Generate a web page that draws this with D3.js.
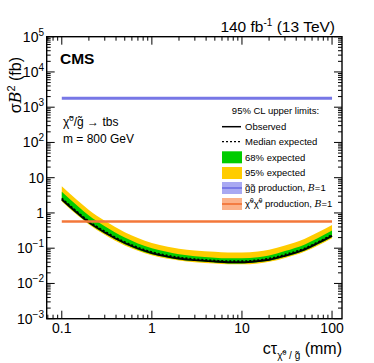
<!DOCTYPE html>
<html>
<head>
<meta charset="utf-8">
<script src="https://cdn.jsdelivr.net/npm/d3@7"></script>
<style>
body { margin: 0; background: #fff; }
svg { display: block; font-family: "Liberation Sans", Arial, sans-serif; }
</style>
</head>
<body>
<svg id="chart" width="374" height="363"></svg>
<script>
// lifetime points (mm)
const ctau = [0.1, 0.15, 0.2, 0.3, 0.5, 0.7, 1, 1.5, 2, 3, 5, 7, 10, 15, 20, 30, 50, 70, 100];
// limits in fb
const observed = [2.42, 0.98, 0.54, 0.28, 0.14, 0.098, 0.073, 0.058, 0.051, 0.046, 0.042, 0.040, 0.040, 0.043, 0.047, 0.061, 0.093, 0.140, 0.223];
const expected = [2.6, 1.05, 0.58, 0.30, 0.15, 0.105, 0.078, 0.062, 0.055, 0.049, 0.045, 0.043, 0.043, 0.046, 0.051, 0.066, 0.100, 0.150, 0.24];
const exp68Hi = [4.0, 1.58, 0.84, 0.42, 0.20, 0.137, 0.100, 0.078, 0.067, 0.059, 0.054, 0.052, 0.052, 0.055, 0.062, 0.083, 0.128, 0.195, 0.317];
const exp68Lo = [2.25, 0.90, 0.50, 0.26, 0.13, 0.091, 0.067, 0.054, 0.048, 0.043, 0.039, 0.037, 0.037, 0.040, 0.044, 0.057, 0.086, 0.129, 0.207];
const exp95Hi = [5.7, 2.26, 1.22, 0.60, 0.285, 0.194, 0.140, 0.110, 0.097, 0.086, 0.079, 0.075, 0.075, 0.081, 0.091, 0.119, 0.185, 0.282, 0.456];
const exp95Lo = [2.1, 0.84, 0.47, 0.24, 0.12, 0.085, 0.063, 0.050, 0.045, 0.040, 0.037, 0.035, 0.035, 0.037, 0.041, 0.053, 0.080, 0.120, 0.193];
// theory cross sections (fb), flat in ctau
const xsecRange = [0.1, 100];
const xsecGluino = 1780;
const xsecNeutralino = 0.57;

const yTicks = [1e-3, 1e-2, 1e-1, 1, 10, 1e2, 1e3, 1e4, 1e5];
const xTicks = [0.1, 1, 10, 100];

const plotLeft = 46.7, plotRight = 342, plotTop = 36.7, plotBottom = 318.7;
const majorTick = 8;
const minorTick = 4;

const svg = d3.select("#chart");

const x = d3.scaleLog().domain([0.068, 129]).range([plotLeft, plotRight]);
const y = d3.scaleLog().domain([1e-3, 1e5]).range([plotBottom, plotTop]);

const pts = ctau.map((c, i) => ({c, obs: observed[i], exp: expected[i],
    lo68: exp68Lo[i], hi68: exp68Hi[i], lo95: exp95Lo[i], hi95: exp95Hi[i]}));

const plot = svg.append("g");

// bands
const band = (lo, hi) => d3.area()
    .x(d => x(d.c))
    .y0(d => y(d[lo]))
    .y1(d => y(d[hi]))
    .curve(d3.curveMonotoneX);

plot.append("path").datum(pts)
    .attr("d", band("lo95", "hi95"))
    .attr("fill", "#ffcc00");

plot.append("path").datum(pts)
    .attr("d", band("lo68", "hi68"))
    .attr("fill", "#00cc00");

const line = key => d3.line()
    .x(d => x(d.c))
    .y(d => y(d[key]))
    .curve(d3.curveMonotoneX);

plot.append("path").datum(pts)
    .attr("d", line("exp"))
    .attr("fill", "none")
    .attr("stroke", "black")
    .attr("stroke-width", 1.6)
    .attr("stroke-dasharray", "2,2");

plot.append("path").datum(pts)
    .attr("d", line("obs"))
    .attr("fill", "none")
    .attr("stroke", "black")
    .attr("stroke-width", 1.8);

// theory lines
plot.append("line")
    .attr("x1", x(xsecRange[0])).attr("x2", x(xsecRange[1]))
    .attr("y1", y(xsecGluino)).attr("y2", y(xsecGluino))
    .attr("stroke", "#7777e6")
    .attr("stroke-width", 3);

plot.append("line")
    .attr("x1", x(xsecRange[0])).attr("x2", x(xsecRange[1]))
    .attr("y1", y(xsecNeutralino)).attr("y2", y(xsecNeutralino))
    .attr("stroke", "#f3773a")
    .attr("stroke-width", 2.5);

// axes: major + minor ticks on all four sides
const minorOf = (lo, hi) => {
    const out = [];
    for (let e = lo; e <= hi; e++)
        for (let m = 2; m <= 9; m++) out.push(m * Math.pow(10, e));
    return out;
};
const xMinor = minorOf(-2, 2).filter(v => v > 0.068 && v < 129);
const yMinor = minorOf(-3, 4);

const tickGroup = svg.append("g")
    .attr("stroke", "black")
    .attr("stroke-width", 1);

const addTicks = (vals, len, horizontal) =>
{
    vals.forEach(v =>
    {
        if (horizontal)
        {
            const px = x(v);
            tickGroup.append("line").attr("x1", px).attr("x2", px)
                .attr("y1", plotBottom).attr("y2", plotBottom - len);
            tickGroup.append("line").attr("x1", px).attr("x2", px)
                .attr("y1", plotTop).attr("y2", plotTop + len);
        }
        else
        {
            const py = y(v);
            tickGroup.append("line").attr("y1", py).attr("y2", py)
                .attr("x1", plotLeft).attr("x2", plotLeft + len);
            tickGroup.append("line").attr("y1", py).attr("y2", py)
                .attr("x1", plotRight).attr("x2", plotRight - len);
        }
    });
}

addTicks(xTicks, majorTick, true);
addTicks(xMinor, minorTick, true);
addTicks(yTicks, majorTick, false);
addTicks(yMinor, minorTick, false);

svg.append("rect")
    .attr("x", plotLeft).attr("y", plotTop)
    .attr("width", plotRight - plotLeft).attr("height", plotBottom - plotTop)
    .attr("fill", "none")
    .attr("stroke", "black")
    .attr("stroke-width", 1.4);

// tick labels
const xLabel = v => v >= 1 ? String(v) : "0.1";
svg.append("g").selectAll("text").data(xTicks).join("text")
    .attr("x", d => x(d))
    .attr("y", 333)
    .attr("text-anchor", "middle")
    .attr("font-size", 14)
    .text(xLabel);

const yLab = svg.append("g").selectAll("text").data(yTicks).join("text")
    .attr("x", 44)
    .attr("y", d => y(d) + 5)
    .attr("text-anchor", "end")
    .attr("font-size", 14);

yLab.each(function(d)
{
    const e = Math.round(Math.log10(d));
    const t = d3.select(this);
    if (e === 0) { t.text("1"); return; }
    if (e === 1) { t.text("10"); return; }
    t.append("tspan").text("10");
    t.append("tspan").attr("dy", -6).attr("font-size", 10)
        .text(e < 0 ? "\u2212" + (-e) : String(e));
});

// axis titles
const yTitle = svg.append("text")
    .attr("transform", "translate(20.5,57) rotate(-90)")
    .attr("text-anchor", "end")
    .attr("font-size", 16);
yTitle.append("tspan").text("\u03C3");
yTitle.append("tspan").attr("font-style", "italic").attr("font-family", "DejaVu Serif, serif").text("B");
yTitle.append("tspan").attr("dy", -6).attr("font-size", 11).text("2");
yTitle.append("tspan").attr("dy", 6).text(" (fb)");

const xTitle = svg.append("text")
    .attr("x", plotRight)
    .attr("y", 354)
    .attr("text-anchor", "end")
    .attr("font-size", 16);
xTitle.append("tspan").text("c\u03C4");
xTitle.append("tspan").attr("dy", 5).attr("font-size", 10).text("\u03C7\u0303");
xTitle.append("tspan").attr("dy", -4).attr("font-size", 7).text("0");
xTitle.append("tspan").attr("dy", 4).attr("font-size", 10).text(" / g\u0303");
xTitle.append("tspan").attr("dy", -5).text(" (mm)");

// header
svg.append("text")
    .attr("x", 335).attr("y", 31.5)
    .attr("text-anchor", "end")
    .attr("font-size", 15.5)
    .call(t =>
    {
        t.append("tspan").text("140 fb");
        t.append("tspan").attr("dy", -6).attr("font-size", 10).text("-1");
        t.append("tspan").attr("dy", 6).text(" (13 TeV)");
    });

svg.append("text")
    .attr("x", 60).attr("y", 64)
    .attr("font-size", 15.5)
    .attr("font-weight", "bold")
    .text("CMS");

// model annotation
const ann = svg.append("text")
    .attr("x", 63).attr("y", 126)
    .attr("font-size", 12);
ann.append("tspan").text("\u03C7\u0303");
ann.append("tspan").attr("dy", -5).attr("font-size", 8).text("0");
ann.append("tspan").attr("dy", 5).text("/g\u0303 \u2192 tbs");

svg.append("text")
    .attr("x", 63).attr("y", 143)
    .attr("font-size", 12)
    .text("m = 800 GeV");

// legend
const legendX = 222, legendTextX = 245, legendFont = 9.5;
svg.append("text")
    .attr("x", 275.5).attr("y", 114)
    .attr("text-anchor", "middle")
    .attr("font-size", legendFont)
    .text("95% CL upper limits:");

const legendRow = (cy, kind, label) =>
{
    const g = svg.append("g");
    if (kind === "obs" || kind === "exp")
    {
        g.append("line")
            .attr("x1", legendX).attr("x2", legendX + 19)
            .attr("y1", cy).attr("y2", cy)
            .attr("stroke", "black")
            .attr("stroke-width", kind === "obs" ? 1.5 : 1.3)
            .attr("stroke-dasharray", kind === "exp" ? "2,2" : null);
    }
    else
    {
        const fills = {g68: "#00cc00", g95: "#ffcc00", glu: "#a9a9f2", neu: "#fbb28a"};
        g.append("rect")
            .attr("x", legendX).attr("y", cy - 6)
            .attr("width", 20).attr("height", 12)
            .attr("fill", fills[kind]);
        if (kind === "glu" || kind === "neu")
        {
            g.append("line")
                .attr("x1", legendX).attr("x2", legendX + 20)
                .attr("y1", cy).attr("y2", cy)
                .attr("stroke", kind === "glu" ? "#6a6ae2" : "#f06a2a")
                .attr("stroke-width", 1.5);
        }
    }
    const t = g.append("text")
        .attr("x", legendTextX).attr("y", cy + 3.4)
        .attr("font-size", legendFont);
    label(t);
}

legendRow(126.7, "obs", t => t.text("Observed"));
legendRow(141.7, "exp", t => t.text("Median expected"));
legendRow(157.3, "g68", t => t.text("68% expected"));
legendRow(173, "g95", t => t.text("95% expected"));
legendRow(188, "glu", t =>
{
    t.append("tspan").text("g\u0303g\u0303 production, ");
    t.append("tspan").attr("font-style", "italic").attr("font-family", "DejaVu Serif, serif").text("B");
    t.append("tspan").text("=1");
});
legendRow(204, "neu", t =>
{
    t.append("tspan").text("\u03C7\u0303");
    t.append("tspan").attr("dy", -4).attr("font-size", 6.5).text("0");
    t.append("tspan").attr("dy", 4).text("\u03C7\u0303");
    t.append("tspan").attr("dy", -4).attr("font-size", 6.5).text("0");
    t.append("tspan").attr("dy", 4).text(" production, ");
    t.append("tspan").attr("font-style", "italic").attr("font-family", "DejaVu Serif, serif").text("B");
    t.append("tspan").text("=1");
});
</script>
</body>
</html>
